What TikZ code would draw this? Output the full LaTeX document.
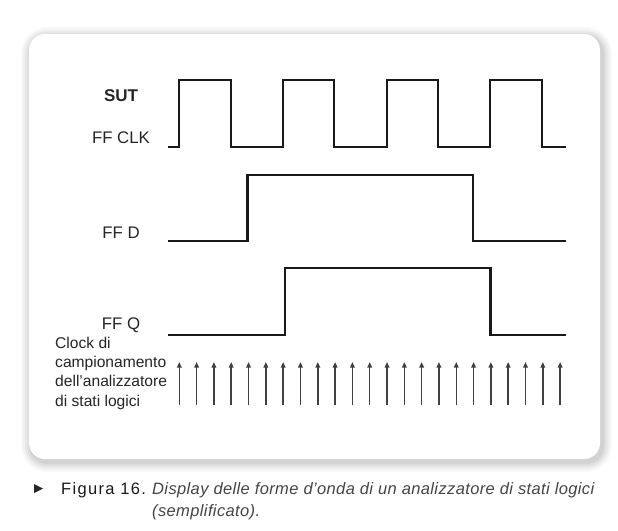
\documentclass[tikz,border=0pt]{standalone}
\usepackage{fontspec}
\setmainfont{Liberation Sans}
\usetikzlibrary{arrows.meta}
\definecolor{txt}{HTML}{262626}
\definecolor{capgray}{HTML}{454545}
\tikzset{
  wave/.style={line width=2.3pt, line join=miter, black!90},
  samp/.style={line width=1.5pt, black!75, -{Triangle[width=4.5pt,length=5.5pt]}},
  lab/.style={anchor=base, text=txt, inner sep=0pt, font=\fontsize{16.8}{19}\selectfont},
  lablines/.style={anchor=base west, text=txt, inner sep=0pt, font=\fontsize{15.6}{19}\selectfont},
}
\begin{document}
\begin{tikzpicture}[x=1pt,y=-1pt]
\useasboundingbox (0,0) rectangle (618,530);
\fill[white] (0,0) rectangle (618,530);
% soft shadow around card
\foreach \i/\o in {10/0.025,8/0.03,6/0.035,4/0.04,2/0.05}{
  \fill[black, opacity=\o, rounded corners=16+\i] (29-\i+2,34-\i+3) rectangle (600+\i+2,459+\i+3);
}
\fill[white, rounded corners=16] (29,34) rectangle (600,459);

% labels
\node[lab, font=\bfseries\fontsize{17}{19}\selectfont] (sut) at (121,101) {SUT};
\node[lab] (ffclk) at (121,143) {FF CLK};
\node[lab] (ffd) at (121,238) {FF D};
\node[lab] (ffq) at (121,329) {FF Q};
\node[lablines] (l1) at (55,348.5) {Clock di};
\node[lablines] (l2) at (55,367.7) {campionamento};
\node[lablines] (l3) at (55,386.9) {dell'analizzatore};
\node[lablines] (l4) at (55,406.1) {di stati logici};

% waveforms
\draw[wave] (168,147) -- (179,147) -- (179,80) -- (231,80) -- (231,147) -- (283,147)
  -- (283,80) -- (334,80) -- (334,147) -- (387,147) -- (387,80) -- (438,80)
  -- (438,147) -- (490,147) -- (490,80) -- (542,80) -- (542,147) -- (566,147);
\draw[wave] (168,241) -- (247.5,241) -- (247.5,175) -- (473,175) -- (473,241) -- (566,241);
\draw[wave] (168,335) -- (285,335) -- (285,268) -- (490.5,268) -- (490.5,335) -- (566,335);

% sampling clock arrows
\foreach \k in {0,...,22}{
  \coordinate (b\k) at (179.3+17.31*\k,405);
  \coordinate (t\k) at (179.3+17.31*\k,362);
  \draw[samp] (b\k) -- (t\k);
}

% caption
\fill[black!85] (34,484) -- (43,488.5) -- (34,493) -- cycle;
\node[anchor=base west, inner sep=0pt, text=black!90, font=\fontsize{16.5}{18}\selectfont\addfontfeature{LetterSpace=8}] (fig) at (61,494) {Figura 16.};
\node[anchor=base west, inner sep=0pt, text=capgray, font=\fontsize{16.5}{18}\selectfont\itshape\addfontfeature{LetterSpace=2.3}] (cap1) at (152,494) {Display delle forme d’onda di un analizzatore di stati logici};
\node[anchor=base west, inner sep=0pt, text=capgray, font=\fontsize{16.5}{18}\selectfont\itshape\addfontfeature{LetterSpace=2.3}] (cap2) at (152,516) {(semplificato).};
\end{tikzpicture}
\end{document}
